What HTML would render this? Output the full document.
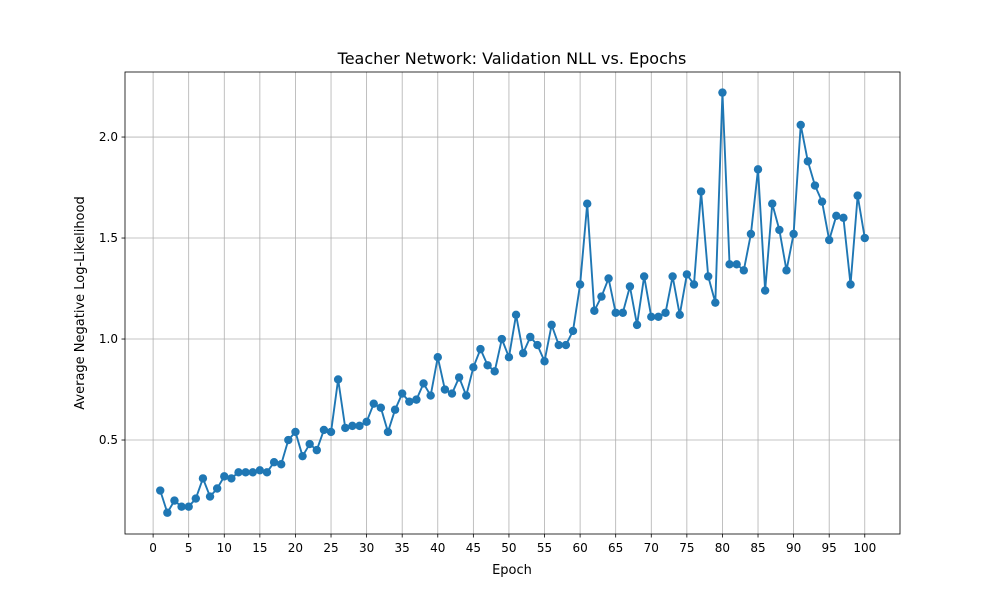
<!DOCTYPE html>
<html><head><meta charset="utf-8"><style>body{margin:0;background:#fff}svg{display:block;font-family:"DejaVu Sans","Liberation Sans",sans-serif}</style></head>
<body>
<svg id="chart" width="1000" height="600" xmlns="http://www.w3.org/2000/svg">
<rect width="1000" height="600" fill="#fff"/>
<g id="grid"></g>
<g id="axes"></g>
<g id="series"></g>
<rect x="125" y="72" width="775" height="462" fill="none" stroke="#000" stroke-width="0.8"/>
<text x="512" y="64" text-anchor="middle" font-size="16">Teacher Network: Validation NLL vs. Epochs</text>
<text x="512" y="574" text-anchor="middle" font-size="13">Epoch</text>
<text transform="translate(84,303) rotate(-90)" text-anchor="middle" font-size="13">Average Negative Log-Likelihood</text>
</svg>
<script>
const epochs = Array.from({length:100},(_,i)=>i+1);
const nll = [0.25,0.14,0.20,0.17,0.17,0.21,0.31,0.22,0.26,0.32,
0.31,0.34,0.34,0.34,0.35,0.34,0.39,0.38,0.50,0.54,
0.42,0.48,0.45,0.55,0.54,0.80,0.56,0.57,0.57,0.59,
0.68,0.66,0.54,0.65,0.73,0.69,0.70,0.78,0.72,0.91,
0.75,0.73,0.81,0.72,0.86,0.95,0.87,0.84,1.00,0.91,
1.12,0.93,1.01,0.97,0.89,1.07,0.97,0.97,1.04,1.27,
1.67,1.14,1.21,1.30,1.13,1.13,1.26,1.07,1.31,1.11,
1.11,1.13,1.31,1.12,1.32,1.27,1.73,1.31,1.18,2.22,
1.37,1.37,1.34,1.52,1.84,1.24,1.67,1.54,1.34,1.52,
2.06,1.88,1.76,1.68,1.49,1.61,1.60,1.27,1.71,1.50];
const xTicks = [0,5,10,15,20,25,30,35,40,45,50,55,60,65,70,75,80,85,90,95,100];
const yTicks = [0.5,1.0,1.5,2.0];
const NS="http://www.w3.org/2000/svg";
const X0=125,X1=900,Y0=72,Y1=534;
const xmin=-3.95,xmax=104.95,ymin=0.0347,ymax=2.322;
const xs=v=>X0+(v-xmin)/(xmax-xmin)*(X1-X0);
const ys=v=>Y1-(v-ymin)/(ymax-ymin)*(Y1-Y0);
function mk(tag,attrs,parent){const e=document.createElementNS(NS,tag);for(const k in attrs)e.setAttribute(k,attrs[k]);parent.appendChild(e);return e;}
const grid=document.getElementById('grid'),axes=document.getElementById('axes'),ser=document.getElementById('series');
xTicks.forEach(t=>{const x=xs(t);
 const g=mk('line',{x1:x,x2:x,y1:Y0,y2:Y1,stroke:'#b0b0b0','stroke-width':0.8},grid);
 
 
 mk('line',{x1:x,x2:x,y1:Y1,y2:Y1+3.5,stroke:'#000','stroke-width':0.8},axes);
 const tx=mk('text',{x:x,y:Y1+18,'text-anchor':'middle','font-size':12},axes);tx.textContent=t;
 
 
});
yTicks.forEach(t=>{const y=ys(t);
 const g=mk('line',{x1:X0,x2:X1,y1:y,y2:y,stroke:'#b0b0b0','stroke-width':0.8},grid);
 
 
 mk('line',{x1:X0-3.5,x2:X0,y1:y,y2:y,stroke:'#000','stroke-width':0.8},axes);
 const tx=mk('text',{x:X0-7,y:y+4,'text-anchor':'end','font-size':12},axes);tx.textContent=t.toFixed(1);
 
 
});
const pts=epochs.map((e,i)=>xs(e).toFixed(2)+','+ys(nll[i]).toFixed(2)).join(' ');
const pl=mk('polyline',{points:pts,fill:'none',stroke:'#1f77b4','stroke-width':1.9,'stroke-linejoin':'round'},ser);


epochs.forEach((e,i)=>{const c=mk('circle',{cx:xs(e),cy:ys(nll[i]),r:4.2,fill:'#1f77b4'},ser);
 
 
});
</script>
</body></html>
